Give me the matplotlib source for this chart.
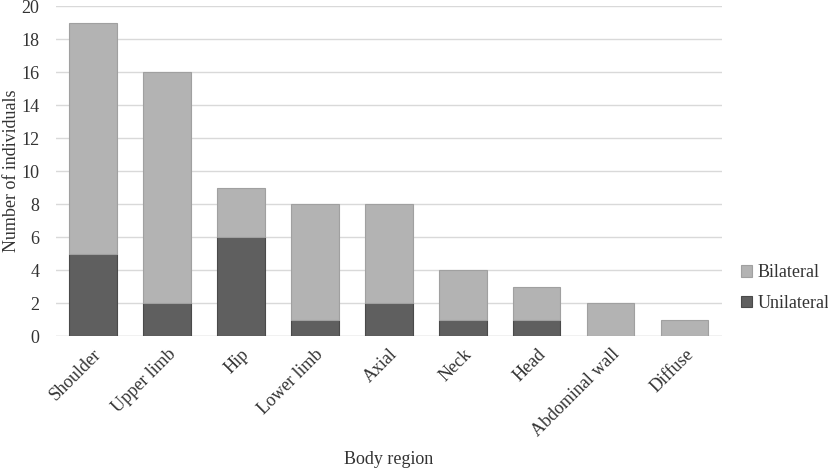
import matplotlib
matplotlib.use("Agg")
import matplotlib.pyplot as plt
import numpy as np

regions = ["Shoulder", "Upper limb", "Hip", "Lower limb", "Axial",
           "Neck", "Head", "Abdominal wall", "Diffuse"]
unilateral = [5, 2, 6, 1, 2, 1, 1, 0, 0]
bilateral = [14, 14, 3, 7, 6, 3, 2, 2, 1]

plt.rcParams['font.family'] = ['Liberation Serif', 'DejaVu Serif']

fig = plt.figure(figsize=(8.29, 4.72), dpi=100)
ax = fig.add_axes([0.0676, 0.288, 0.803, 0.699])

x = np.arange(len(regions))
w = 0.64
ax.bar(x, unilateral, w, color="#5f5f5f", edgecolor="#4a4a4a", linewidth=0.8,
       label="Unilateral", zorder=3)
ax.bar(x, bilateral, w, bottom=unilateral, color="#b3b3b3", edgecolor="#a0a0a0",
       linewidth=0.8, label="Bilateral", zorder=3)

ax.set_xlim(-0.5, len(regions) - 0.5)
ax.set_ylim(0, 20)
ax.set_yticks(range(0, 21, 2))
ax.yaxis.grid(True, color="#d9d9d9", linewidth=1, zorder=0)
for s in ax.spines.values():
    s.set_visible(False)
ax.axhline(0, color="#d9d9d9", linewidth=1, zorder=1)
ax.tick_params(axis="both", length=0, labelsize=13, colors="#333333")
ax.tick_params(axis="y", pad=12)
ax.tick_params(axis="x", pad=7)
ax.set_xticks(x)
ax.set_xticklabels(regions, rotation=45, ha="right", rotation_mode="anchor")
ax.set_xlabel("Body region", fontsize=13, color="#333333", labelpad=8)
ax.set_ylabel("Number of individuals", fontsize=13, color="#333333", labelpad=1)

h, l = ax.get_legend_handles_labels()
ax.legend(h[::-1], l[::-1], loc="center left", bbox_to_anchor=(1.005, 0.145),
          frameon=False, fontsize=13, handlelength=0.6, handleheight=0.6,
          handletextpad=0.3, labelspacing=0.75, labelcolor="#333333")

fig.savefig("out.png", dpi=100)
